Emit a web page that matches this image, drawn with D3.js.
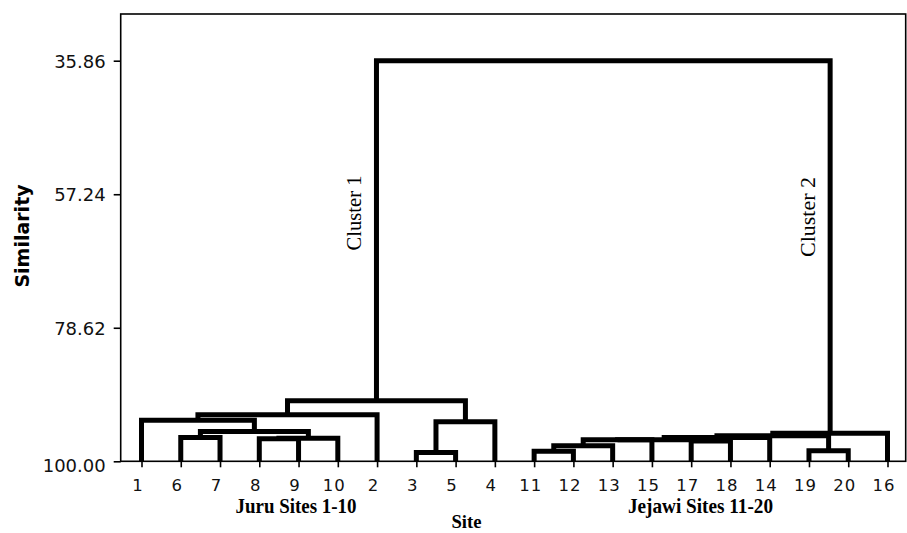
<!DOCTYPE html>
<html>
<head>
<meta charset="utf-8">
<script src="https://cdn.jsdelivr.net/npm/d3@7"></script>
<style>
  html, body { margin: 0; padding: 0; background: #fff; }
  svg { display: block; }
</style>
</head>
<body>
<script>
// ---- data ----
const leaves = ["1","6","7","8","9","10","2","3","5","4","11","12","13","15","17","18","14","19","20","16"];
// merges: id, left child, right child, similarity level
const mergeIds   = ["M0","M1","M2","M3","M4","M5","M6","M7","M8","M9","M10","M11","M12","M13","M14","M15","M16","M17","M18"];
const mergeLeft  = ["6","8","M1","M0","1","M4","3","M6","M5","11","M9","M10","17","M11","M13","19","M14","M16","M8"];
const mergeRight = ["7","9","10","M2","M3","2","5","4","M7","12","13","15","18","M12","14","20","M15","16","M17"];
const mergeSim   = [96.19,96.40,96.32,95.23,93.42,92.56,98.59,93.68,90.32,98.39,97.52,96.56,96.75,96.53,96.19,98.32,95.92,95.52,35.86];
const yTicks = [35.86, 57.24, 78.62, 100.00];
const clusterLabels = ["Cluster 1", "Cluster 2"];
const groupLabels = ["Juru Sites 1-10", "Jejawi Sites 11-20"];

// ---- layout ----
const W = 907, H = 533;
const frame = {left: 120.7, top: 14, right: 905.7, bottom: 461.3};

const svg = d3.select("body").append("svg").attr("width", W).attr("height", H);

const x = d3.scalePoint().domain(leaves).range([141.5, 887.5]);
const y = d3.scaleLinear().domain([100, 35.86]).range([frame.bottom, 60.7]);

// frame
svg.append("rect")
  .attr("x", frame.left).attr("y", frame.top)
  .attr("width", frame.right - frame.left).attr("height", frame.bottom - frame.top)
  .attr("fill", "none").attr("stroke", "#000").attr("stroke-width", 1.6);

// y axis
const yAxis = d3.axisLeft(y).tickValues(yTicks).tickFormat(d3.format(".2f")).tickSize(7).tickPadding(8);
const gy = svg.append("g").attr("transform", `translate(${frame.left},0)`).call(yAxis);
gy.select(".domain").remove();
gy.selectAll(".tick line").attr("stroke", "#000").attr("stroke-width", 1.6);
gy.selectAll(".tick text")
  .attr("font-family", "DejaVu Sans").attr("font-size", 18).attr("fill", "#111")
  .attr("dy", d => d === 100 ? "0.55em" : "0.36em");

// x axis (leaves)
const xAxis = d3.axisBottom(x).tickSize(6).tickPadding(12);
const gx = svg.append("g").attr("transform", `translate(0,${frame.bottom})`).call(xAxis);
gx.select(".domain").remove();
gx.selectAll(".tick line").attr("stroke", "#000").attr("stroke-width", 1.6);
gx.selectAll(".tick text")
  .attr("font-family", "DejaVu Sans").attr("font-size", 16.5).attr("fill", "#111")
  .attr("dx", -4).attr("letter-spacing", 1);

// ---- dendrogram links ----
const nodes = {};
leaves.forEach(l => nodes[l] = {x: x(l), y: y(100)});
const links = [];
mergeIds.forEach((id, i) => {
  const a = nodes[mergeLeft[i]], b = nodes[mergeRight[i]];
  const ym = y(mergeSim[i]);
  links.push({a, b, ym});
  nodes[id] = {x: (a.x + b.x) / 2, y: ym};
});

svg.append("g").selectAll("path").data(links).join("path")
  .attr("d", d => `M${d.a.x},${d.a.y}V${d.ym}H${d.b.x}V${d.b.y}`)
  .attr("fill", "none").attr("stroke", "#000").attr("stroke-width", 5)
  .attr("stroke-linejoin", "miter").attr("stroke-linecap", "butt");

// ---- labels ----
svg.append("text")
  .attr("transform", `translate(29,236) rotate(-90)`)
  .attr("text-anchor", "middle")
  .attr("font-family", "DejaVu Sans").attr("font-weight", "bold").attr("font-size", 19)
  .text("Similarity");

const clusterPos = [nodes["M8"].x, nodes["M17"].x];
const clusterMid = [213, 217];
const clusterLen = [75, 80];
clusterLabels.forEach((t, i) => {
  svg.append("text")
    .attr("transform", `translate(${clusterPos[i] - 15},${clusterMid[i]}) rotate(-90)`)
    .attr("text-anchor", "middle")
    .attr("font-family", "Liberation Serif").attr("font-size", 22)
    .attr("textLength", clusterLen[i]).attr("lengthAdjust", "spacingAndGlyphs")
    .text(t);
});

const groupX = [296, 700.5];
const groupLen = [121, 145];
groupLabels.forEach((t, i) => {
  svg.append("text")
    .attr("x", groupX[i]).attr("y", 513)
    .attr("text-anchor", "middle")
    .attr("font-family", "Liberation Serif").attr("font-weight", "bold").attr("font-size", 21)
    .attr("textLength", groupLen[i]).attr("lengthAdjust", "spacingAndGlyphs")
    .text(t);
});

svg.append("text")
  .attr("x", 466.5).attr("y", 528)
  .attr("text-anchor", "middle")
  .attr("font-family", "Liberation Serif").attr("font-weight", "bold").attr("font-size", 19)
  .attr("textLength", 30).attr("lengthAdjust", "spacingAndGlyphs")
  .text("Site");
</script>
</body>
</html>
